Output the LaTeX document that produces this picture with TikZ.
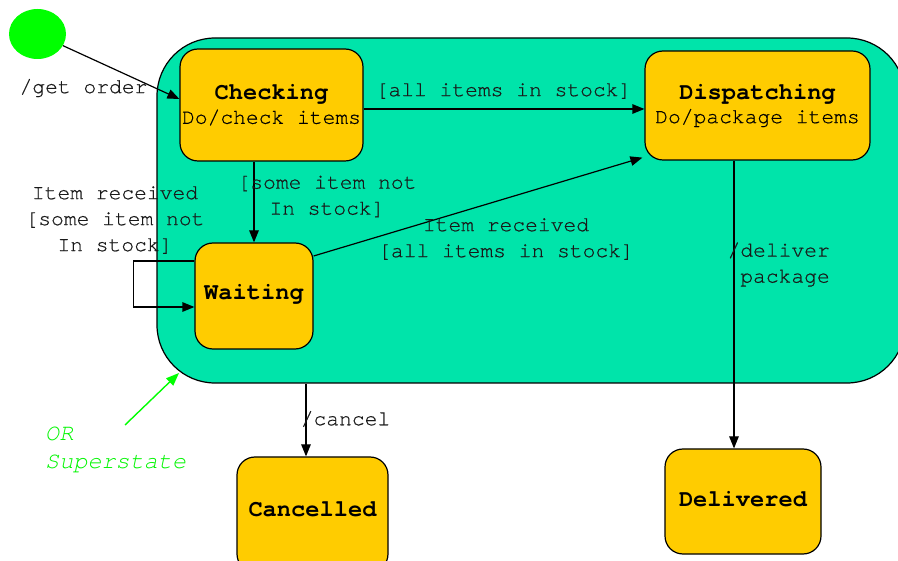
\documentclass[tikz,border=0pt]{standalone}
\usepackage{fontspec}
\setmainfont{TeX Gyre Cursor}
\newfontfamily\lblfamily{TeX Gyre Cursor}[FakeBold=0.5]
\usetikzlibrary{arrows.meta,shapes.geometric}
\definecolor{superc}{RGB}{0,228,170}
\definecolor{statec}{RGB}{255,204,0}
\definecolor{startc}{RGB}{0,255,0}
\definecolor{notec}{RGB}{0,245,0}
\newcommand{\ttlfnt}{\fontsize{23.7}{27}\selectfont\bfseries}
\newcommand{\subfnt}{\fontsize{21.3}{27}\selectfont\mdseries\lblfamily}
\begin{document}
\begin{tikzpicture}[x=1pt,y=-1pt,
  state/.style={draw=black, fill=statec, rounded corners=18pt, line width=1.2pt, align=center, inner sep=0pt},
  lbl/.style={align=center, inner sep=0pt, font=\lblfamily\fontsize{21.3}{26}\selectfont, text=black!90},
  arr/.style={line width=1.2pt, -{Triangle[length=12pt,width=9.5pt]}},
  garr/.style={line width=1.4pt, draw=startc, -{Triangle[length=13pt,width=10pt]}, startc}]
\useasboundingbox (0,0) rectangle (898,561);
% superstate
\node[draw=black, fill=superc, rounded corners=58pt, minimum width=748pt, minimum height=345pt, line width=1.2pt, inner sep=0pt] (super) at (531,210.5) {};
% start
\node[fill=startc, ellipse, minimum width=57pt, minimum height=50pt, inner sep=0pt] (start) at (37.5,34) {};
% states
\node[state, minimum width=183pt, minimum height=112pt] (chk) at (271.5,105) {\ttlfnt Checking\\[4pt]\subfnt Do/check items};
\node[state, minimum width=225pt, minimum height=109pt] (disp) at (757.5,105.5) {\ttlfnt Dispatching\\[4pt]\subfnt Do/package items};
\node[state, minimum width=118pt, minimum height=106pt] (wait) at (254,296) {\raisebox{9pt}{\ttlfnt Waiting}};
\node[state, minimum width=151pt, minimum height=115pt] (can) at (312.5,514.5) {\raisebox{11pt}{\ttlfnt Cancelled}};
\node[state, minimum width=156pt, minimum height=105pt] (del) at (743,501.5) {\raisebox{5pt}{\ttlfnt Delivered}};
% connectors
\coordinate (hy) at (0,109);
\coordinate (dx) at (734,0);
\coordinate (cx) at (306,0);
\draw[arr] (start) -- ([yshift=6pt]chk.west);
\draw[arr] (chk.east |- hy) -- (disp.west |- hy);
\draw[arr] (chk.south -| wait.north) -- (wait.north);
\draw[arr] ([yshift=40pt]wait.east) -- ([xshift=-2pt,yshift=3pt]disp.south west);
\draw[arr] ([yshift=35pt]wait.west) -- ++(-61,0) |- ([yshift=-11pt]wait.west);
\draw[arr] (disp.south -| dx) -- (del.north -| dx);
\draw[arr] (super.south -| cx) -- (can.north -| cx);
% labels
\node[lbl] (lgo) at (83.5,88) {/get order};
\node[lbl] (lall) at (503.5,91) {{[}all items in stock{]}};
\node[lbl] (lsome) at (327,196.5) {{[}some item not\\In stock{]}};
\node[lbl] (lrecall) at (506,239) {Item received\\{[}all items in stock{]}};
\node[lbl] (lrecsome) at (115,220) {Item received\\{[}some item not\\In stock{]}};
\node[lbl, align=right, anchor=east] (ldel) at (830,264.5) {/deliver\\package};
\node[lbl] (lcan) at (345.5,419) {/cancel};
% note
\node[anchor=west, align=left, text=notec, font=\fontsize{23.5}{28}\selectfont\itshape, inner sep=0pt] (orl) at (45,450) {OR\\Superstate};
\coordinate (gs) at (125,425);
\coordinate (ge) at (179,373);
\draw[garr] (gs) -- (ge);
\end{tikzpicture}
\end{document}
